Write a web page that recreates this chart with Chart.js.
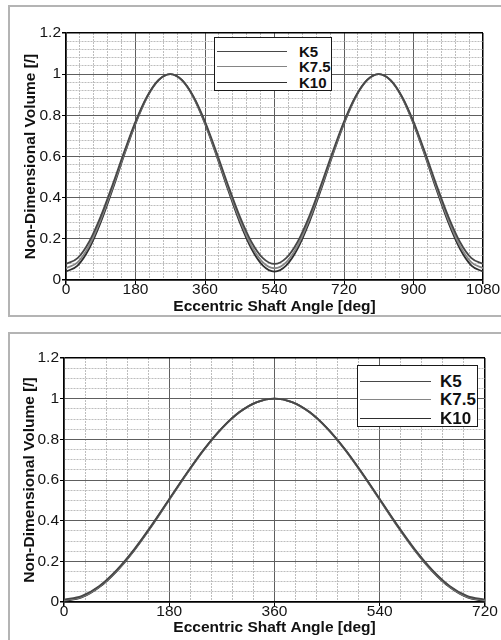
<!DOCTYPE html>
<html>
<head>
<meta charset="utf-8">
<script src="https://cdn.jsdelivr.net/npm/chart.js@4.4.1/dist/chart.umd.min.js"></script>
<style>
  body { margin: 0; width: 501px; height: 640px; overflow: hidden; background: #fff; position: relative; font-family: "Liberation Sans", Arial, sans-serif; }
  .panel { position: absolute; left: 8px; width: 520px; border: 2px solid #b4b4b4; box-sizing: border-box; }
  .wrap { position: absolute; left: 0; width: 501px; height: 320px; }
  .legend { position: absolute; border: 1.5px solid #1a1a1a; background: #fff; box-sizing: border-box; }
  .legend .row { position: absolute; left: 0; right: 0; height: 0; }
  .legend .ln { position: absolute; height: 0; border-top: 1.5px solid #555; }
  .legend .tx { position: absolute; font-weight: bold; color: #111; transform: translateY(-50%); line-height: 1; }
</style>
</head>
<body>
<div class="panel" style="top:5px;height:312px"></div>
<div class="panel" style="top:332px;height:330px"></div>

<div class="wrap" style="top:0"><canvas id="chartTop"></canvas></div>
<div class="wrap" style="top:320px"><canvas id="chartBottom"></canvas></div>

<div class="legend" id="legendTop" style="left:214px;top:37px;width:118px;height:54px"></div>
<div class="legend" id="legendBottom" style="left:357px;top:365px;width:121px;height:62px"></div>

<script>
// series names and colours
const seriesNames = ['K5', 'K7.5', 'K10'];
const seriesColors = ['#474747', '#858585', '#2e2e2e'];

// top chart: three full rotations (0..1080 deg), sampled every 30 deg
const angleTop = [0, 30, 60, 90, 120, 150, 180, 210, 240, 270, 300, 330, 360, 390, 420, 450, 480, 510, 540,
  570, 600, 630, 660, 690, 720, 750, 780, 810, 840, 870, 900, 930, 960, 990, 1020, 1050, 1080];
const k5Top = [0.078, 0.106, 0.186, 0.309, 0.459, 0.619, 0.770, 0.892, 0.972, 1.000, 0.972, 0.892, 0.770, 0.619, 0.459, 0.309, 0.186, 0.106, 0.078,
  0.106, 0.186, 0.309, 0.459, 0.619, 0.770, 0.892, 0.972, 1.000, 0.972, 0.892, 0.770, 0.619, 0.459, 0.309, 0.186, 0.106, 0.078];
const k75Top = [0.057, 0.086, 0.167, 0.293, 0.447, 0.610, 0.764, 0.890, 0.972, 1.000, 0.972, 0.890, 0.764, 0.610, 0.447, 0.293, 0.167, 0.086, 0.057,
  0.086, 0.167, 0.293, 0.447, 0.610, 0.764, 0.890, 0.972, 1.000, 0.972, 0.890, 0.764, 0.610, 0.447, 0.293, 0.167, 0.086, 0.057];
const k10Top = [0.041, 0.070, 0.153, 0.281, 0.437, 0.604, 0.760, 0.888, 0.971, 1.000, 0.971, 0.888, 0.760, 0.604, 0.437, 0.281, 0.153, 0.070, 0.041,
  0.070, 0.153, 0.281, 0.437, 0.604, 0.760, 0.888, 0.971, 1.000, 0.971, 0.888, 0.760, 0.604, 0.437, 0.281, 0.153, 0.070, 0.041];

// bottom chart: 0..720 deg, sampled every 30 deg
const angleBottom = [0, 30, 60, 90, 120, 150, 180, 210, 240, 270, 300, 330, 360, 390, 420, 450, 480, 510, 540, 570, 600, 630, 660, 690, 720];
const k5Bottom = [0.012, 0.029, 0.078, 0.157, 0.259, 0.378, 0.506, 0.634, 0.753, 0.855, 0.934, 0.983, 1.000, 0.983, 0.934, 0.855, 0.753, 0.634, 0.506, 0.378, 0.259, 0.157, 0.078, 0.029, 0.012];
const k75Bottom = [0.008, 0.025, 0.075, 0.153, 0.256, 0.376, 0.504, 0.632, 0.752, 0.854, 0.934, 0.983, 1.000, 0.983, 0.934, 0.854, 0.752, 0.632, 0.504, 0.376, 0.256, 0.153, 0.075, 0.025, 0.008];
const k10Bottom = [0.005, 0.022, 0.072, 0.151, 0.254, 0.374, 0.503, 0.631, 0.751, 0.854, 0.933, 0.983, 1.000, 0.983, 0.933, 0.854, 0.751, 0.631, 0.503, 0.374, 0.254, 0.151, 0.072, 0.022, 0.005];

// tick labels
const xLabelsTop = [0, 180, 360, 540, 720, 900, 1080];
const xLabelsBottom = [0, 180, 360, 540, 720];
const yLabels = [0, 0.2, 0.4, 0.6, 0.8, 1, 1.2];

const xTitle = 'Eccentric Shaft Angle [deg]';
const yTitle = 'Non-Dimensional Volume [/]';

const tickFont = { family: 'Liberation Sans, Arial, sans-serif', size: 15.5 };
const titleFont = { family: 'Liberation Sans, Arial, sans-serif', size: 15.5, weight: 'bold', lineHeight: 1.2 };

function isLabel(list, v) {
  return list.some(l => Math.abs(l - v) < 1e-6);
}

function gridStyle(labels, last) {
  return {
    color: c => {
      if (!c.tick) return '#000';
      if (c.index === 0 || c.index === last) return '#000';
      return isLabel(labels, c.tick.value) ? '#5e5e5e' : '#bdbdbd';
    },
    lineWidth: c => (c.tick && (c.index === 0 || c.index === last)) ? 1.5 : 1,
    tickColor: c => (c.tick && isLabel(labels, c.tick.value)) ? '#000' : 'rgba(0,0,0,0)',
    tickLength: 4
  };
}

function borderStyle(labels) {
  return {
    color: '#000',
    width: 1.5,
    dash: c => (c.tick && !isLabel(labels, c.tick.value)) ? [2, 1] : []
  };
}

function makeChart(id, xs, ys, xMax, xLabels, yStep, pad, yWidth, xHeight) {
  const xCount = Math.round(xMax / 36);
  const yCount = Math.round(1.2 / yStep);
  return new Chart(document.getElementById(id), {
    type: 'line',
    data: {
      datasets: ys.map((arr, i) => ({
        label: seriesNames[i],
        data: arr.map((y, j) => ({ x: xs[j], y: y })),
        borderColor: seriesColors[i],
        borderWidth: 1.8,
        pointRadius: 0,
        cubicInterpolationMode: 'monotone',
        fill: false
      }))
    },
    options: {
      responsive: true,
      maintainAspectRatio: false,
      animation: false,
      layout: { padding: pad },
      plugins: { legend: { display: false }, tooltip: { enabled: false } },
      scales: {
        x: {
          type: 'linear',
          min: 0,
          max: xMax,
          afterFit: s => { s.height = xHeight; },
          ticks: {
            stepSize: 36,
            autoSkip: false,
            maxRotation: 0,
            padding: -4,
            color: '#141414',
            font: tickFont,
            callback: v => isLabel(xLabels, v) ? String(v) : ''
          },
          grid: gridStyle(xLabels, xCount),
          border: borderStyle(xLabels),
          title: { display: true, text: xTitle, color: '#111', font: titleFont, padding: 0 }
        },
        y: {
          type: 'linear',
          min: 0,
          max: 1.2,
          afterFit: s => { s.width = yWidth; },
          ticks: {
            stepSize: yStep,
            autoSkip: false,
            padding: 1,
            color: '#141414',
            font: tickFont,
            callback: v => isLabel(yLabels, v) ? String(Number(v.toFixed(2))) : ''
          },
          grid: gridStyle(yLabels, yCount),
          border: borderStyle(yLabels),
          title: { display: true, text: yTitle, color: '#111', font: titleFont, padding: 0 }
        }
      }
    }
  });
}

function makeLegend(id, lineLeft, lineWidth, textLeft, rows, fontSize) {
  const box = document.getElementById(id);
  seriesNames.forEach((name, i) => {
    const row = document.createElement('div');
    row.className = 'row';
    row.style.top = rows[i] + 'px';
    row.innerHTML = `<div class="ln" style="left:${lineLeft}px;width:${lineWidth}px;border-color:${seriesColors[i]}"></div>` +
      `<div class="tx" style="left:${textLeft}px;font-size:${fontSize}px">${name}</div>`;
    box.appendChild(row);
  });
}

makeChart('chartTop', angleTop, [k5Top, k75Top, k10Top], 1080, xLabelsTop, 0.04,
  { top: 33, right: 18, left: 21, bottom: 4 }, 45, 36);
makeChart('chartBottom', angleBottom, [k5Bottom, k75Bottom, k10Bottom], 720, xLabelsBottom, 0.05,
  { top: 38, right: 16, left: 20, bottom: 3 }, 44, 35);

makeLegend('legendTop', 2, 70, 84, [13, 28, 44], 15);
makeLegend('legendBottom', 2, 71, 82, [15, 33, 52], 17);
</script>
</body>
</html>
